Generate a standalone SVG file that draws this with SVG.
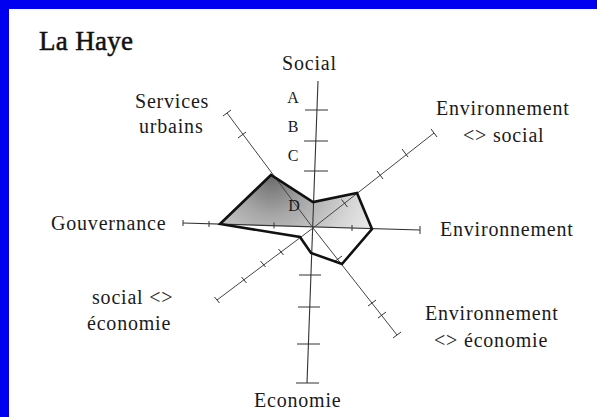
<svg xmlns="http://www.w3.org/2000/svg" width="597" height="417" viewBox="0 0 597 417">
<defs>
<radialGradient id="shade" gradientUnits="userSpaceOnUse" cx="272" cy="178" r="105">
<stop offset="0" stop-color="#6e6e6e"/>
<stop offset="0.35" stop-color="#a6a6a6"/>
<stop offset="0.75" stop-color="#d2d2d2"/>
<stop offset="1" stop-color="#e6e6e6"/>
</radialGradient>
<style>
.ax{stroke:#333;stroke-width:1.1;fill:none}
.dg{stroke:#444;stroke-width:1;fill:none}
.tk{stroke:#333;stroke-width:1;fill:none}
.poly{stroke:#111;stroke-width:2.6;fill:none;stroke-linejoin:miter}
.lb{font-family:"Liberation Serif","Times New Roman",serif;font-size:20px;letter-spacing:0.8px;fill:#1a1a1a}
.lt{font-family:"Liberation Serif","Times New Roman",serif;font-size:16px;fill:#1a1a1a;text-anchor:middle}
</style>
</defs>
<rect x="0" y="0" width="597" height="417" fill="#ffffff"/>
<rect x="0" y="0" width="597" height="9" fill="#0000f0"/>
<rect x="0" y="0" width="9" height="417" fill="#0000f0"/>

<g id="title"><text x="39" y="50" font-family="'Liberation Serif','Times New Roman',serif" font-size="27" letter-spacing="0.3" fill="#111" stroke="#111" stroke-width="0.5">La Haye</text></g>

<g id="data-area">
<polygon points="220,224 271,175 313,202 357,193 372,229" fill="url(#shade)"/>
</g>

<g id="connectors">
<line class="ax" x1="318" y1="81" x2="307" y2="383"/>
<line class="ax" x1="183" y1="223" x2="420" y2="230"/>
<line class="dg" x1="313" y1="228" x2="227" y2="113"/>
<line class="dg" x1="313" y1="228" x2="434" y2="133"/>
<line class="dg" x1="313" y1="228" x2="217" y2="300"/>
<line class="dg" x1="313" y1="228" x2="397" y2="335"/>
<line class="tk" x1="305" y1="110" x2="328" y2="110"/>
<line class="tk" x1="304" y1="141" x2="328" y2="141"/>
<line class="tk" x1="304" y1="171" x2="328" y2="171"/>
<line class="tk" x1="299" y1="275" x2="321" y2="275"/>
<line class="tk" x1="298" y1="307" x2="320" y2="307"/>
<line class="tk" x1="297" y1="344" x2="320" y2="344"/>
<line class="tk" x1="296" y1="383" x2="319" y2="383"/>
<line class="tk" x1="183" y1="220" x2="183" y2="226"/>
<line class="tk" x1="209" y1="221" x2="209" y2="227"/>
<line class="tk" x1="274" y1="222.5" x2="274" y2="228.5"/>
<line class="tk" x1="352" y1="225" x2="352" y2="231"/>
<line class="tk" x1="420" y1="226" x2="420" y2="234"/>
<line class="tk" x1="238" y1="138" x2="246" y2="132"/>
<line class="tk" x1="223" y1="116" x2="231" y2="110"/>
<line class="tk" x1="341.5" y1="199.5" x2="347.5" y2="207"/>
<line class="tk" x1="377" y1="171" x2="383" y2="179"/>
<line class="tk" x1="402" y1="149" x2="408" y2="157"/>
<line class="tk" x1="431" y1="129" x2="437" y2="137"/>
<line class="tk" x1="278.5" y1="249" x2="283.5" y2="255"/>
<line class="tk" x1="260.5" y1="261" x2="265.5" y2="267"/>
<line class="tk" x1="241.5" y1="277" x2="246.5" y2="283"/>
<line class="tk" x1="214.5" y1="297" x2="219.5" y2="303"/>
<line class="tk" x1="334" y1="262" x2="342" y2="256"/>
<line class="tk" x1="368" y1="306" x2="376" y2="300"/>
<line class="tk" x1="378" y1="318" x2="386" y2="312"/>
<line class="tk" x1="393" y1="338" x2="401" y2="332"/>
</g>

<g id="profile">
<polygon class="poly" points="220,224 271,175 313,202 357,193 372,229 342,264 311,253 300,237"/>
</g>

<g id="scale">
<text class="lt" x="293" y="103">A</text>
<text class="lt" x="293" y="132">B</text>
<text class="lt" x="293" y="161">C</text>
<text class="lt" x="294" y="211">D</text>
</g>

<g id="node-social"><text class="lb" x="282" y="70">Social</text></g>
<g id="node-services"><text class="lb" x="135" y="108">Services</text><text class="lb" x="139" y="133">urbains</text></g>
<g id="node-env-social"><text class="lb" x="436" y="115">Environnement</text><text class="lb" x="463" y="142">&lt;&gt; social</text></g>
<g id="node-gouvernance"><text class="lb" x="51" y="230">Gouvernance</text></g>
<g id="node-environnement"><text class="lb" x="440" y="236">Environnement</text></g>
<g id="node-social-eco"><text class="lb" x="92" y="304">social &lt;&gt;</text><text class="lb" x="87" y="330">économie</text></g>
<g id="node-env-eco"><text class="lb" x="425" y="320">Environnement</text><text class="lb" x="434" y="347">&lt;&gt; économie</text></g>
<g id="node-economie"><text class="lb" x="254" y="407">Economie</text></g>
</svg>
